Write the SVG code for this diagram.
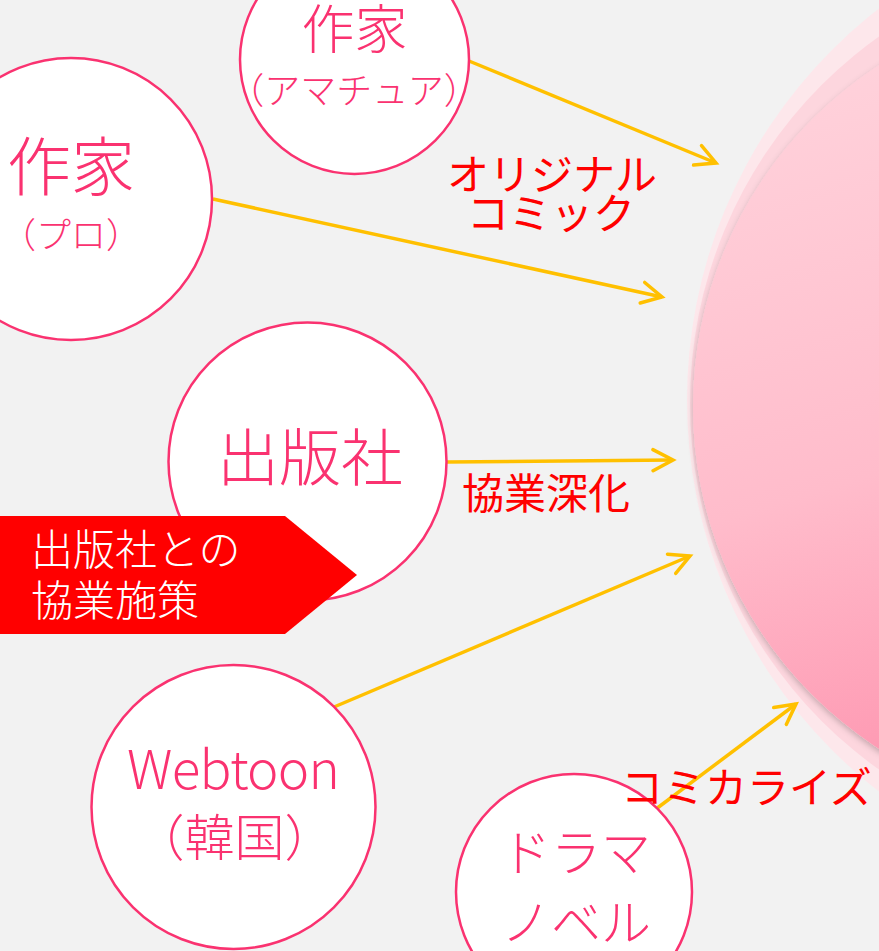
<svg xmlns="http://www.w3.org/2000/svg" width="879" height="951" viewBox="0 0 879 951">
  <style>
    .node circle { fill: #ffffff; stroke: #fa3270; stroke-width: 2.5; }
    .nt { fill: #fa3270; font-family: "Noto Sans CJK JP", "Noto Sans", sans-serif; font-weight: 300; text-anchor: middle; }
    .lbl { fill: #ff0000; font-family: "Noto Sans CJK JP", "Noto Sans", sans-serif; font-size: 42px; }
    .conn line { stroke: #ffc000; stroke-width: 3.5; fill: none; }
    .banner text { fill: #ffffff; font-family: "Noto Sans CJK JP", "Noto Sans", sans-serif; font-size: 42px; font-weight: 300; }
  </style>
  <defs>
    <marker id="arrow" markerUnits="userSpaceOnUse" markerWidth="26" markerHeight="26" viewBox="0 0 26 26" refX="22" refY="13" orient="auto">
      <path d="M2,2.5 L22,13 L2,23.5" fill="none" stroke="#ffc000" stroke-width="3.5" stroke-linecap="round" stroke-linejoin="miter"/>
    </marker>
    <linearGradient id="disk" x1="0.35" y1="0" x2="0.65" y2="1">
      <stop offset="0" stop-color="#ffd3dc"/>
      <stop offset="0.5" stop-color="#ffbccb"/>
      <stop offset="0.85" stop-color="#fe97b1"/>
      <stop offset="1" stop-color="#fd7fa0"/>
    </linearGradient>
    <filter id="shadow" x="-20%" y="-20%" width="140%" height="140%">
      <feDropShadow dx="0" dy="3" stdDeviation="3" flood-color="#000000" flood-opacity="0.22"/>
    </filter>
  </defs>

  <rect x="0" y="0" width="879" height="951" fill="#f2f2f2"/>

  <g id="platform">
    <circle cx="1182" cy="400" r="495" fill="#fde7eb"/>
    <circle cx="1140" cy="403" r="450" fill="#fdd6de"/>
    <circle cx="1100" cy="407" r="407" fill="url(#disk)" filter="url(#shadow)"/>
  </g>

  <g id="connectors" class="conn">
    <line x1="469" y1="61" x2="716" y2="163" marker-end="url(#arrow)"/>
    <line x1="213" y1="199" x2="662" y2="297" marker-end="url(#arrow)"/>
    <line x1="447" y1="462" x2="673" y2="460" marker-end="url(#arrow)"/>
    <line x1="334" y1="707" x2="690" y2="556" marker-end="url(#arrow)"/>
    <line x1="656" y1="809" x2="796" y2="704" marker-end="url(#arrow)"/>
  </g>

  <g id="node-amateur" class="node">
    <circle cx="354.5" cy="59.5" r="114.5"/>
    <text class="nt" x="354.5" y="49" font-size="53">作家</text>
    <text class="nt" x="354" y="104" font-size="36">（アマチュア）</text>
  </g>

  <g id="node-pro" class="node">
    <circle cx="71" cy="199" r="141"/>
    <text class="nt" x="71" y="190" font-size="64">作家</text>
    <text class="nt" x="71" y="248" font-size="35">（プロ）</text>
  </g>

  <g id="node-publisher" class="node">
    <circle cx="307.5" cy="461.5" r="139"/>
    <text class="nt" x="310" y="481" font-size="62">出版社</text>
  </g>

  <g id="node-webtoon" class="node">
    <circle cx="233.5" cy="807" r="142"/>
    <text class="nt" x="233.5" y="789" font-size="53" textLength="213" lengthAdjust="spacing">Webtoon</text>
    <text class="nt" x="234.5" y="856" font-size="50">（韓国）</text>
  </g>

  <g id="node-drama" class="node">
    <circle cx="574" cy="892" r="118"/>
    <text class="nt" x="576" y="871" font-size="50">ドラマ</text>
    <text class="nt" x="576" y="941" font-size="50">ノベル</text>
  </g>

  <g id="labels">
    <text class="lbl" x="552" y="190" text-anchor="middle">オリジナル</text>
    <text class="lbl" x="551" y="229" text-anchor="middle">コミック</text>
    <text class="lbl" x="462" y="509">協業深化</text>
    <text class="lbl" x="621" y="803">コミカライズ</text>
  </g>

  <g id="banner" class="banner">
    <polygon points="0,516 285,516 357,575 285,634 0,634" fill="#ff0000"/>
    <text x="31" y="565">出版社との</text>
    <text x="31" y="616">協業施策</text>
  </g>
</svg>
